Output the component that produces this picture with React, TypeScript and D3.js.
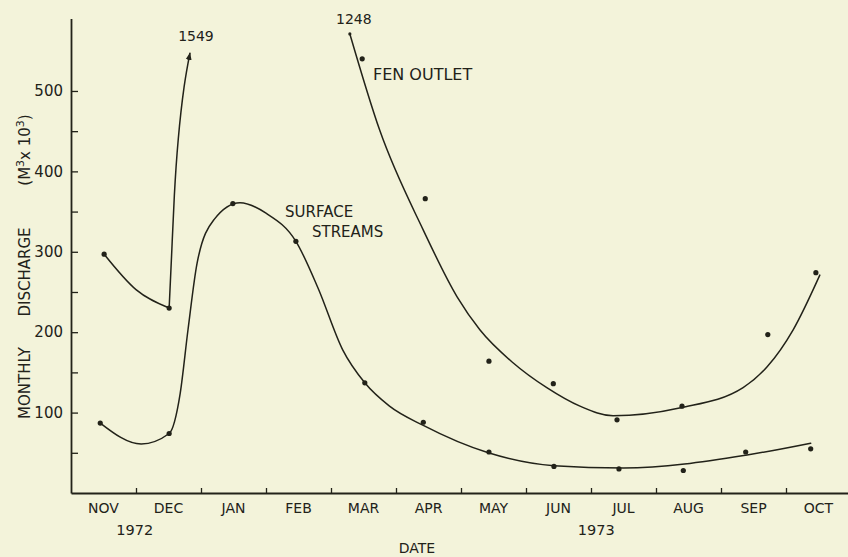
import { useEffect, useRef } from 'react';
import * as d3 from 'd3';

// month index: 0 = start of Nov 1972, 12 = end of Oct 1973
const months = ['NOV', 'DEC', 'JAN', 'FEB', 'MAR', 'APR', 'MAY', 'JUN', 'JUL', 'AUG', 'SEP', 'OCT'];
const yearLabels: [string, number][] = [['1972', 0.98], ['1973', 8.08]];
const yTicks = [50, 100, 150, 200, 250, 300, 350, 400, 450, 500];

// measured monthly discharge (m3 x 10^3)
const surfacePoints: [number, number][] = [
  [0.45, 87], [1.51, 74], [2.49, 360], [3.46, 313], [4.52, 137], [5.42, 88],
  [6.43, 51], [7.43, 33], [8.43, 30], [9.42, 28], [10.38, 51], [11.38, 55],
];
const fenPoints: [number, number][] = [
  [0.51, 297], [1.51, 230], [4.48, 540], [5.45, 366], [6.43, 164], [7.42, 136],
  [8.4, 91], [9.4, 108], [10.72, 197], [11.46, 274],
];

// hand-fitted curves as drawn on the original
const surfaceCurve: [number, number][] = [
  [0.45, 87], [1.08, 61], [1.51, 74], [1.68, 124], [1.8, 203], [1.94, 286], [2.2, 340],
  [2.6, 361], [3.0, 348], [3.46, 313], [3.8, 255], [4.18, 178], [4.52, 137], [4.9, 108],
  [5.42, 84], [6.42, 50], [7.43, 34], [8.5, 31], [10.38, 47], [11.38, 62],
];
const fenCurveA1: [number, number][] = [[0.51, 297], [1.0, 253], [1.51, 230]];
const fenCurveA2: [number, number][] = [
  [1.51, 230], [1.55, 300], [1.59, 370], [1.65, 440], [1.74, 505], [1.83, 547],
];
const fenCurveB: [number, number][] = [
  [4.29, 571], [4.75, 451], [5.42, 327], [5.94, 244], [6.29, 203], [6.8, 162], [7.32, 131],
  [7.83, 108], [8.34, 96], [9.38, 106], [10.34, 131], [10.71, 157], [11.11, 203], [11.52, 271],
];
const offChart = [{ label: '1549', at: fenCurveA2[fenCurveA2.length - 1], dx: 6, dy: -12 },
  { label: '1248', at: fenCurveB[0], dx: 4, dy: -10 }];

const W = 848;
const H = 557;
const INK = '#222219';
const FONT = "'DejaVu Sans', sans-serif";

export default function App() {
  const ref = useRef<SVGSVGElement>(null);

  useEffect(() => {
    if (!ref.current) return;
    const svg = d3.select(ref.current);
    svg.selectAll('*').remove();

    const x = d3.scaleLinear().domain([0, 12]).range([71, 851]);
    const y = d3.scaleLinear().domain([0, 590]).range([493, 18.6]);

    svg.append('rect').attr('width', W).attr('height', H).attr('fill', '#f3f3da');

    svg.append('defs').append('marker')
      .attr('id', 'arrow').attr('viewBox', '0 0 10 10')
      .attr('refX', 9).attr('refY', 5)
      .attr('markerWidth', 5).attr('markerHeight', 5)
      .attr('orient', 'auto')
      .append('path').attr('d', 'M0,1 L10,5 L0,9 Z').attr('fill', INK);

    // y axis
    const yAxis = d3.axisLeft(y)
      .tickValues(yTicks)
      .tickSizeInner(-7)
      .tickSizeOuter(0)
      .tickPadding(8)
      .tickFormat((d) => (+d % 100 === 0 ? String(d) : ''));
    const ga = svg.append('g').attr('transform', `translate(${x(0)},0)`).call(yAxis);
    ga.select('.domain').attr('stroke', INK).attr('stroke-width', 1.8);
    ga.selectAll('.tick line').attr('stroke', INK).attr('stroke-width', 1.3);
    ga.selectAll('.tick text').attr('fill', INK).attr('font-size', 15).attr('font-family', FONT);

    // x axis
    const xAxis = d3.axisBottom(x)
      .tickValues(d3.range(1, 12))
      .tickSizeInner(-5)
      .tickSizeOuter(0)
      .tickFormat(() => '');
    const gx = svg.append('g').attr('transform', `translate(0,${y(0)})`).call(xAxis);
    gx.select('.domain').attr('stroke', INK).attr('stroke-width', 1.8);
    gx.selectAll('.tick line').attr('stroke', INK).attr('stroke-width', 1.3);

    const txt = svg.append('g').attr('fill', INK).attr('font-family', FONT);

    months.forEach((m, i) => {
      txt.append('text').attr('x', x(i + 0.5)).attr('y', 513)
        .attr('text-anchor', 'middle').attr('font-size', 14).text(m);
    });
    yearLabels.forEach(([lab, at]) => {
      txt.append('text').attr('x', x(at)).attr('y', 535)
        .attr('text-anchor', 'middle').attr('font-size', 14.5).text(lab);
    });
    txt.append('text').attr('x', 417).attr('y', 553)
      .attr('text-anchor', 'middle').attr('font-size', 14).text('DATE');

    // y title, three spaced pieces
    const yt = txt.append('g').attr('font-size', 15);
    yt.append('text').attr('transform', 'translate(30,383) rotate(-90)')
      .attr('text-anchor', 'middle').text('MONTHLY');
    yt.append('text').attr('transform', 'translate(30,272) rotate(-90)')
      .attr('text-anchor', 'middle').text('DISCHARGE');
    const unit = yt.append('text').attr('transform', 'translate(30,150) rotate(-90)')
      .attr('text-anchor', 'middle');
    unit.append('tspan').text('(M');
    unit.append('tspan').attr('font-size', 11).attr('dy', -6).text('3');
    unit.append('tspan').attr('dy', 6).text('x 10');
    unit.append('tspan').attr('font-size', 11).attr('dy', -6).text('3');
    unit.append('tspan').attr('dy', 6).text(')');

    // curves
    const line = d3.line<[number, number]>()
      .x((d) => x(d[0]))
      .y((d) => y(d[1]))
      .curve(d3.curveMonotoneX);
    const steepLine = d3.line<[number, number]>()
      .x((d) => x(d[0]))
      .y((d) => y(d[1]))
      .curve(d3.curveNatural);

    const curves = svg.append('g').attr('fill', 'none').attr('stroke', INK)
      .attr('stroke-width', 1.5).attr('stroke-linecap', 'round');
    curves.append('path').attr('d', line(surfaceCurve));
    curves.append('path').attr('d', line(fenCurveA1));
    curves.append('path').attr('d', steepLine(fenCurveA2)).attr('marker-end', 'url(#arrow)');
    curves.append('path').attr('d', line(fenCurveB));

    // points
    const dots = svg.append('g').attr('fill', INK);
    [...surfacePoints, ...fenPoints].forEach(([m, v]) => {
      dots.append('circle').attr('cx', x(m)).attr('cy', y(v)).attr('r', 2.6);
    });
    dots.append('circle').attr('cx', x(fenCurveB[0][0])).attr('cy', y(fenCurveB[0][1])).attr('r', 1.6);

    offChart.forEach((o) => {
      txt.append('text').attr('x', x(o.at[0]) + o.dx).attr('y', y(o.at[1]) + o.dy)
        .attr('text-anchor', 'middle').attr('font-size', 14).text(o.label);
    });

    // series labels
    txt.append('text').attr('x', 373).attr('y', 80).attr('font-size', 16).text('FEN OUTLET');
    txt.append('text').attr('x', 285).attr('y', 217).attr('font-size', 15).text('SURFACE');
    txt.append('text').attr('x', 312).attr('y', 237).attr('font-size', 15).text('STREAMS');
  }, []);

  return (
    <svg
      ref={ref}
      width={W}
      height={H}
      style={{ position: 'fixed', left: 0, top: 0, display: 'block' }}
    />
  );
}
